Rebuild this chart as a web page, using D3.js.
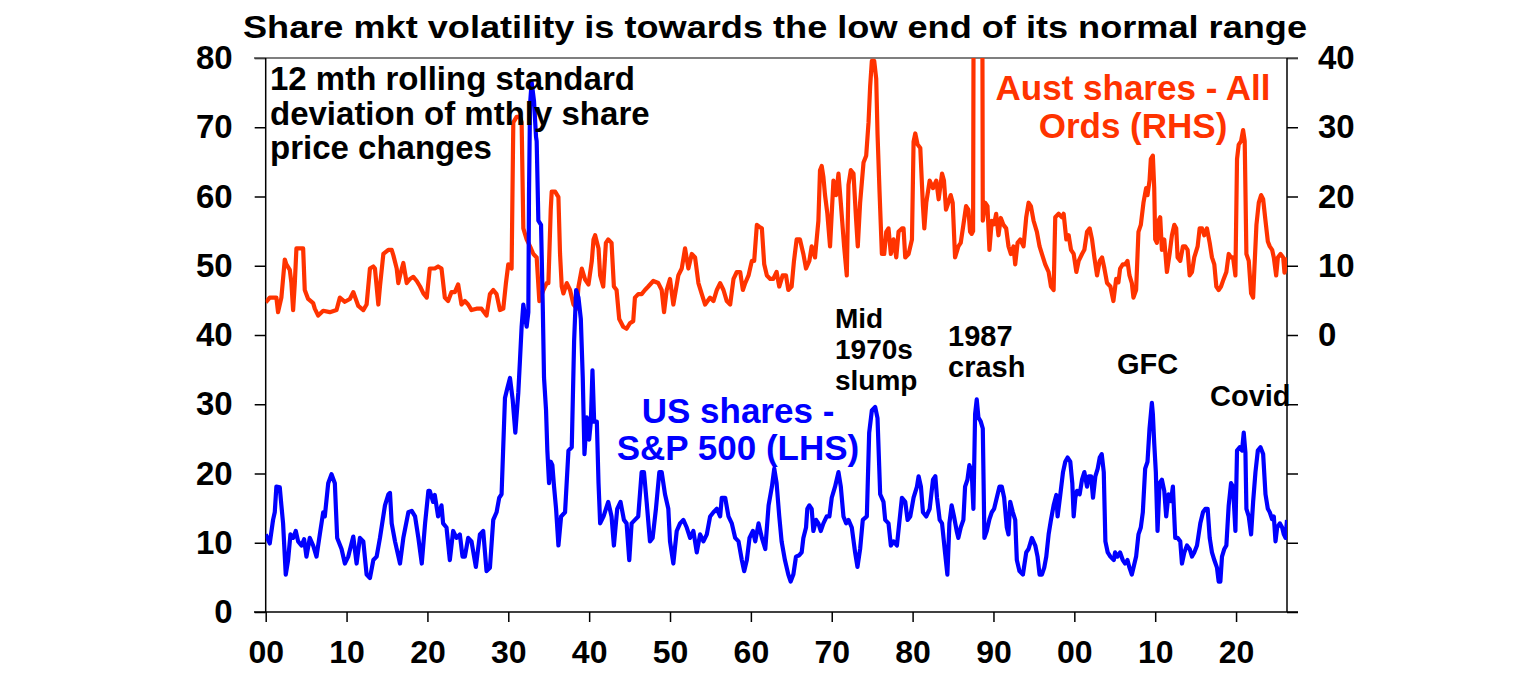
<!DOCTYPE html>
<html>
<head>
<meta charset="utf-8">
<script src="https://cdn.jsdelivr.net/npm/d3@7"></script>
<style>
  body { margin: 0; background: #fff; }
  text { font-family: "Liberation Sans", Arial, sans-serif; font-weight: bold; }
</style>
</head>
<body>
<div id="my_dataviz"></div>
<script>
// x axis ticks
var xTickYears = [1900, 1910, 1920, 1930, 1940, 1950, 1960, 1970, 1980, 1990, 2000, 2010, 2020];
var xTickLabels = ["00", "10", "20", "30", "40", "50", "60", "70", "80", "90", "00", "10", "20"];

// US shares - S&P 500, 12 mth rolling std dev (LHS)
var usDates = [1900.00,1900.50,1900.91,1901.12,1901.32,1901.74,1901.94,1902.15,1902.48,1902.77,1903.06,1903.39,1903.72,1904.01,1904.42,1904.75,1905.04,1905.45,1905.87,1906.28,1906.69,1907.11,1907.31,1907.73,1908.14,1908.55,1908.84,1909.38,1909.79,1910.21,1910.83,1911.24,1911.65,1912.07,1912.48,1912.89,1913.31,1913.72,1914.13,1914.75,1915.17,1915.37,1915.58,1915.99,1916.61,1917.02,1917.64,1918.06,1918.47,1918.88,1919.30,1919.71,1920.12,
  1920.29,1920.70,1920.91,1921.32,1921.74,1921.94,1922.36,1922.77,1923.18,1923.60,1924.01,1924.34,1924.63,1925.04,1925.45,1925.99,1926.49,1926.90,1927.31,1927.73,1928.14,1928.55,1928.88,1929.17,1929.59,1929.88,1930.21,1930.54,1930.87,1931.24,1931.45,1931.65,1931.86,1932.27,1932.48,1932.56,1932.69,1932.89,1933.18,1933.43,1933.51,1933.72,1934.05,1934.26,1934.42,1934.67,1934.83,1935.04,1935.25,1935.45,1935.66,1935.91,1936.20,1936.53,1937.02,1937.44,1937.85,1938.14,1938.39,1938.68,1938.97,1939.21,1939.42,1939.71,1940.00,1940.21,1940.41,1940.62,1940.95,1941.16,1941.36,1941.78,
  1941.94,1942.36,1942.77,1943.06,1943.47,1943.88,1944.30,1944.63,1944.96,1945.25,1945.66,1946.07,1946.49,1946.78,1947.11,1947.52,1947.85,1948.26,1948.68,1948.97,1949.38,1949.79,1950.00,1950.41,1950.83,1951.24,1951.65,1952.07,1952.48,1952.89,1953.31,1953.72,1954.13,1954.55,1954.96,1955.37,1955.79,1956.20,1956.40,1956.82,1957.23,1957.64,1958.06,1958.47,1958.88,1959.17,1959.50,1959.83,1960.25,1960.54,1960.95,1961.36,1961.78,1962.19,1962.60,1962.89,
  1963.18,1963.51,1963.80,1964.21,1964.63,1964.92,1965.25,1965.58,1965.99,1966.28,1966.49,1966.82,1966.98,1967.23,1967.52,1967.73,1968.06,1968.35,1968.64,1968.97,1969.38,1969.71,1970.00,1970.41,1970.83,1971.12,1971.45,1971.78,1972.07,1972.48,1972.89,1973.18,1973.51,1973.84,1974.34,1974.63,1974.96,1975.37,1975.66,1975.99,1976.40,1976.61,1977.02,1977.31,1977.64,1978.06,1978.39,1978.68,1979.09,1979.38,1979.71,1980.12,1980.54,1980.74,1981.03,1981.28,1981.69,1982.11,1982.52,1982.81,1983.02,1983.35,1983.64,
  1984.01,1984.30,1984.55,1984.83,1985.12,1985.45,1985.66,1985.95,1986.28,1986.49,1986.78,1987.02,1987.31,1987.52,1987.73,1987.93,1988.14,1988.43,1988.68,1988.88,1989.17,1989.50,1989.79,1990.08,1990.41,1990.74,1991.03,1991.32,1991.65,1991.86,1992.07,1992.40,1992.69,1992.89,1993.22,1993.64,1994.05,1994.34,1994.75,1995.17,1995.45,1995.70,1995.99,1996.28,1996.53,1996.82,1997.11,1997.44,1997.77,1997.93,1998.26,1998.60,1998.88,1999.17,1999.50,1999.75,1999.92,2000.12,2000.33,2000.66,2000.95,2001.24,2001.57,2001.78,2002.07,2002.31,2002.60,2002.89,2003.14,2003.39,2003.64,2003.84,2004.13,2004.46,2004.88,
  2005.04,2005.33,2005.66,2005.99,2006.28,2006.57,2006.82,2007.11,2007.31,2007.64,2007.93,2008.22,2008.47,2008.76,2009.05,2009.30,2009.59,2009.71,2009.88,2010.08,2010.29,2010.54,2010.83,2011.12,2011.36,2011.65,2011.94,2012.19,2012.48,2012.77,2013.10,2013.31,2013.60,2013.93,2014.26,2014.55,2014.83,2015.17,2015.58,2015.91,2016.20,2016.49,2016.74,2017.02,2017.31,2017.64,2017.85,2018.06,2018.26,2018.55,2018.80,2019.09,2019.38,2019.63,2019.92,2020.12,2020.45,2020.74,2020.95,2021.16,2021.28,2021.57,2021.86,2022.11,2022.40,2022.69,2023.02,2023.35,2023.64,2023.93,2024.17,2024.46,2024.67,2024.88,2025.08,2025.41,2025.70,2025.91,2026.12,2026.30];
var usVol = [11.2,9.9,13.3,14.4,18.1,18.0,15.4,12.8,5.4,7.5,11.2,10.7,11.7,10.2,9.6,10.5,8.0,10.7,9.6,8.0,11.2,14.4,13.8,18.6,19.9,18.6,10.7,9.1,7.0,8.0,10.9,7.0,10.7,10.2,5.4,4.9,7.5,8.0,10.7,15.4,17.0,17.2,12.8,10.2,7.0,10.7,14.4,14.6,13.8,10.7,7.0,12.8,17.5,
  17.5,15.9,16.9,13.8,15.4,12.8,12.2,7.5,11.7,10.7,11.2,8.0,8.0,10.7,10.2,6.5,11.2,11.7,5.9,6.4,13.3,14.4,16.5,17.0,30.9,32.3,33.8,30.7,25.9,31.7,36.5,41.2,44.4,41.2,43.3,60.2,73.3,76.5,73.8,68.6,68.0,56.5,55.9,44.4,33.8,29.1,23.3,18.6,21.7,21.2,18.1,14.9,9.6,13.8,14.4,23.3,23.8,39.1,46.5,45.4,42.3,33.8,22.8,28.1,24.9,27.5,34.9,27.5,27.5,18.6,12.8,13.8,
  14.4,15.9,13.8,9.6,14.9,15.9,13.3,12.8,7.5,12.8,13.3,13.8,20.2,20.2,15.9,10.2,10.7,14.9,20.2,20.2,17.0,14.9,10.2,7.0,11.7,12.8,13.3,12.2,10.7,11.7,8.6,11.2,10.2,11.2,13.8,14.4,14.9,13.8,16.5,16.5,13.8,12.8,10.7,10.2,7.5,5.9,7.5,10.7,11.7,10.2,12.8,10.7,9.1,15.4,18.1,20.7,
  18.6,13.8,10.2,7.5,5.4,4.4,5.4,8.0,8.2,8.6,10.7,12.2,14.9,15.4,14.9,11.7,13.3,12.8,11.7,12.8,13.8,13.8,16.5,18.1,20.2,18.1,13.8,12.8,13.3,12.2,8.6,6.5,9.1,13.3,13.8,25.9,29.1,29.6,28.0,17.0,15.9,13.3,12.8,9.6,10.2,9.6,13.3,16.5,15.9,13.3,13.8,16.5,18.1,19.6,18.1,14.4,13.8,14.9,19.1,19.6,16.5,13.3,12.8,
  8.6,5.4,12.8,15.4,13.8,11.7,10.7,12.2,13.3,18.1,19.1,21.2,20.2,14.9,28.6,30.7,28.1,27.5,26.5,10.7,11.7,13.4,14.4,14.9,16.5,18.1,18.1,16.5,12.2,11.2,15.9,14.4,13.3,7.5,5.9,5.4,8.6,9.1,10.7,9.6,8.0,5.4,5.4,6.4,8.0,11.2,13.3,15.4,16.9,13.8,16.9,20.2,21.7,22.3,21.7,18.6,13.8,16.5,17.5,17.0,19.1,20.2,18.1,19.6,19.6,16.5,19.6,20.7,22.3,22.8,20.2,10.2,8.6,8.0,7.5,
  8.6,8.0,8.6,7.5,7.0,7.5,6.4,5.4,6.4,8.0,11.2,12.2,14.4,20.7,21.7,26.5,30.2,28.6,24.4,20.2,11.7,18.6,19.1,17.5,13.8,17.0,16.0,18.1,10.7,10.7,10.2,7.0,8.6,9.6,9.1,8.0,8.6,9.6,12.8,14.4,14.9,14.9,10.7,8.6,7.5,6.4,4.4,4.4,8.0,9.1,9.6,15.4,18.6,18.1,11.7,23.3,23.8,23.3,25.9,23.0,14.9,13.8,11.2,15.9,20.2,23.3,23.8,22.8,17.0,14.9,14.4,13.4,13.8,10.2,12.2,12.8,12.2,11.2,10.7,13.3];

// Aust shares - All Ords, 12 mth rolling std dev (RHS)
var auDates = [1900.00,1900.50,1901.32,1901.53,1901.94,1902.36,1902.56,1902.98,1903.18,1903.39,1903.60,1903.80,1904.63,1904.83,1905.25,1905.87,1906.07,1906.49,1907.11,1907.93,1908.76,1909.17,1909.79,1910.41,1910.83,1911.45,1912.07,1912.48,1912.89,1913.31,1913.51,1913.93,1914.13,1914.55,1915.17,1915.58,1915.79,1916.20,1916.40,1916.61,1917.02,1917.44,1917.85,1918.26,1918.68,1919.09,1919.50,1919.92,
  1920.29,1920.91,1921.32,1921.74,1922.15,1922.56,1922.98,1923.39,1923.80,1924.21,1924.63,1925.04,1925.45,1926.07,1926.69,1927.31,1927.73,1928.14,1928.55,1928.97,1929.38,1929.71,1930.00,1930.41,1930.62,1931.03,1931.45,1931.65,1931.86,1932.27,1932.69,1933.10,1933.51,1933.84,1934.34,1934.75,1934.96,1935.25,1935.37,1935.79,1936.20,1936.40,1936.61,1936.82,1937.23,1937.64,1938.06,1938.47,1938.68,1939.09,1939.50,1939.92,1940.33,1940.54,1940.74,1941.16,1941.36,
  1941.74,1942.07,1942.36,1942.77,1943.06,1943.39,1943.72,1944.21,1944.63,1945.04,1945.45,1945.66,1946.07,1946.49,1946.90,1947.31,1947.93,1948.55,1948.97,1949.26,1949.59,1950.00,1950.41,1951.03,1951.45,1951.86,1952.27,1952.69,1953.10,1953.51,1953.93,1954.34,1954.96,1955.37,1955.79,1956.20,1956.61,1957.02,1957.44,1957.85,1958.26,1958.68,1959.01,1959.30,1959.71,1960.12,1960.41,1960.74,1961.07,1961.36,1961.65,1961.98,1962.40,
  1962.77,1963.18,1963.51,1963.93,1964.34,1964.63,1965.04,1965.33,1965.66,1966.07,1966.49,1966.82,1967.23,1967.52,1967.93,1968.35,1968.55,1968.76,1968.97,1969.17,1969.46,1969.79,1970.21,1970.54,1970.83,1971.12,1971.36,1971.53,1971.86,1972.07,1972.36,1972.69,1973.02,1973.22,1973.51,1973.93,1974.26,1974.55,1974.75,1974.96,1975.25,1975.50,1975.66,1975.91,1976.20,1976.49,1976.74,1977.02,1977.31,1977.64,1977.98,1978.26,1978.68,1978.88,1979.09,1979.50,1979.92,1980.12,1980.33,1980.62,1980.95,1981.28,1981.45,1981.69,1982.11,1982.52,1982.93,1983.22,1983.64,
  1983.88,1984.13,1984.42,1984.71,1984.96,1985.25,1985.66,1985.95,1986.28,1986.61,1986.90,1987.11,1987.31,1987.48,1987.55,1988.10,1988.62,1988.68,1988.97,1989.26,1989.50,1989.79,1990.08,1990.33,1990.62,1990.91,1991.24,1991.57,1991.86,1992.15,1992.48,1992.69,1992.98,1993.31,1993.72,1994.05,1994.34,1994.63,1994.96,1995.37,1995.70,1995.99,1996.40,1996.82,1997.11,1997.44,1997.64,1998.06,1998.47,1998.68,1999.01,1999.30,1999.59,1999.92,2000.25,2000.54,2000.95,2001.24,2001.57,2001.90,2002.19,2002.48,2002.81,2003.14,2003.43,2003.72,2004.05,2004.46,
  2004.83,2005.17,2005.45,2005.66,2005.99,2006.28,2006.57,2006.82,2007.11,2007.31,2007.64,2007.93,2008.22,2008.55,2008.88,2009.05,2009.30,2009.46,2009.71,2009.88,2010.00,2010.21,2010.41,2010.62,2010.83,2011.12,2011.45,2011.78,2012.07,2012.36,2012.60,2012.77,2013.10,2013.43,2013.72,2014.01,2014.26,2014.55,2014.83,2015.25,2015.50,2015.79,2016.07,2016.40,2016.74,2017.02,2017.31,2017.56,2017.85,2018.14,2018.47,2018.80,2019.09,2019.38,2019.63,2019.92,2020.12,2020.33,2020.62,2020.87,2021.07,2021.28,2021.57,2021.86,2022.11,2022.27,2022.52,2022.81,2023.10,2023.35,2023.64,2023.93,2024.17,2024.46,2024.67,2024.96,2025.17,2025.50,2025.83,2025.99,2026.30];
var auVol = [4.7,5.4,5.4,3.3,5.4,10.9,10.2,9.4,7.5,3.6,7.5,12.5,12.5,6.5,5.2,4.6,3.8,2.8,3.5,3.3,3.6,5.4,4.8,5.2,6.2,4.2,3.6,4.4,9.6,9.9,9.6,4.4,7.0,11.7,12.3,12.3,11.5,9.6,7.5,8.6,10.4,7.5,8.1,8.4,7.8,7.0,6.0,5.4,
  9.6,9.6,9.9,9.6,5.4,4.9,6.2,6.2,7.3,4.4,4.9,4.4,3.6,3.8,3.8,2.8,5.9,6.5,5.9,3.6,3.8,7.5,10.2,9.6,30.7,31.5,31.5,30.7,15.4,13.8,12.8,11.7,11.2,4.9,6.5,7.5,7.5,18.1,20.7,20.7,19.9,11.7,7.0,6.0,7.5,6.5,4.4,3.8,7.0,9.6,8.0,7.3,10.7,13.8,14.4,12.5,8.6,
  7.0,13.3,13.8,13.3,7.0,6.5,2.3,1.2,0.9,1.7,2.0,5.4,5.9,5.9,6.5,7.0,7.8,7.5,6.5,3.3,6.5,8.1,4.4,8.6,9.6,12.5,9.6,11.7,11.2,7.5,5.9,4.4,5.4,4.9,6.5,7.5,6.5,4.9,4.4,8.1,9.1,9.1,6.5,7.5,8.6,10.7,10.7,15.9,15.6,15.4,10.2,8.6,8.1,
  8.1,9.1,7.0,8.6,8.6,6.5,7.0,10.7,13.8,13.8,11.7,9.6,10.7,12.8,11.2,16.5,23.8,24.4,22.8,20.2,17.5,12.8,22.3,20.2,23.3,19.1,15.4,12.8,8.6,21.7,23.8,23.3,16.5,12.8,19.1,24.9,25.9,30.7,35.9,39.6,39.6,37.0,29.1,20.7,11.7,11.7,14.9,15.4,11.7,13.8,11.2,14.9,15.4,15.4,11.2,11.7,13.8,27.9,29.1,27.5,27.0,18.6,15.4,19.1,22.3,21.2,22.3,19.6,23.3,
  22.3,18.1,19.1,20.2,19.1,11.2,12.8,13.3,15.9,18.6,18.1,14.9,14.6,15.0,50.0,52.0,50.0,16.5,19.1,18.6,12.3,16.5,16.0,17.5,14.4,16.9,15.9,15.4,12.8,11.7,12.8,10.2,13.3,13.8,12.8,17.0,19.1,18.6,16.5,14.9,12.8,11.7,10.2,9.1,7.0,6.5,17.0,17.5,17.0,17.5,13.8,14.4,12.3,11.7,9.1,10.7,11.7,12.3,14.9,15.4,13.8,11.2,8.6,10.7,11.2,9.6,7.5,7.0,
  4.9,8.1,7.6,9.6,10.2,10.2,10.7,8.6,7.5,5.4,6.5,14.9,15.9,19.1,21.2,20.2,22.3,25.4,25.9,21.2,13.8,13.3,16.5,17.0,12.3,13.8,9.1,11.7,14.4,15.9,15.4,11.2,10.7,12.8,12.8,12.3,8.6,9.1,11.2,12.8,15.4,15.4,14.4,15.4,13.3,11.2,10.2,7.0,6.5,7.0,8.1,9.1,11.7,11.2,11.2,8.6,25.4,27.5,28.0,29.6,28.0,11.7,10.7,6.0,5.4,9.6,15.9,19.1,20.2,19.6,16.5,13.5,12.8,12.3,11.2,8.6,11.2,11.7,11.2,9.0,11.2];

var us = usDates.map(function(d, i) { return {date: d, value: usVol[i]}; });
var au = auDates.map(function(d, i) { return {date: d, value: auVol[i]}; });

var width = 1536, height = 680;
var plot = {left: 265.7, right: 1287, top: 58, bottom: 612};

var svg = d3.select("#my_dataviz")
  .append("svg")
    .attr("width", width)
    .attr("height", height);

var x = d3.scaleLinear().domain([1900, 2026.3]).range([plot.left, plot.right]);
var y = d3.scaleLinear().domain([0, 80]).range([plot.bottom, plot.top]);
var yR = d3.scaleLinear().domain([-40, 40]).range([plot.bottom, plot.top]);

svg.append("defs").append("clipPath").attr("id", "clip")
  .append("rect")
    .attr("x", plot.left).attr("y", plot.top)
    .attr("width", plot.right - plot.left).attr("height", plot.bottom - plot.top);

// title
svg.append("text")
  .attr("x", 775)
  .attr("y", 38)
  .attr("text-anchor", "middle")
  .attr("font-size", 31)
  .attr("textLength", 1064)
  .attr("lengthAdjust", "spacingAndGlyphs")
  .text("Share mkt volatility is towards the low end of its normal range");

// axes
var leftAxis = svg.append("g")
  .attr("transform", "translate(" + plot.left + ",0)")
  .call(d3.axisLeft(y).tickValues(d3.range(0, 90, 10)).tickSize(11).tickPadding(22));

var rightAxis = svg.append("g")
  .attr("transform", "translate(" + plot.right + ",0)")
  .call(d3.axisRight(yR).tickValues(d3.range(-40, 50, 10)).tickSize(11).tickPadding(20)
    .tickFormat(function(d) { return d >= 0 ? d : ""; }));

var bottomAxis = svg.append("g")
  .attr("transform", "translate(0," + plot.bottom + ")")
  .call(d3.axisBottom(x).tickValues(xTickYears).tickSize(10).tickPadding(18)
    .tickFormat(function(d, i) { return xTickLabels[i]; }));

[leftAxis, rightAxis, bottomAxis].forEach(function(g) {
  g.select(".domain").remove();
  g.selectAll(".tick line").attr("stroke", "#000").attr("stroke-width", 1.5);
  g.selectAll(".tick text")
    .attr("fill", "#000")
    .attr("font-size", 33)
    .attr("font-family", "'Liberation Sans', Arial, sans-serif")
    .attr("font-weight", "bold");
});
bottomAxis.selectAll(".tick text").attr("font-size", 32);

// frame
svg.append("line").attr("x1", 254).attr("x2", 1298).attr("y1", plot.top).attr("y2", plot.top)
  .attr("stroke", "#555").attr("stroke-width", 1.5);
svg.append("line").attr("x1", 254).attr("x2", 1298).attr("y1", plot.bottom).attr("y2", plot.bottom)
  .attr("stroke", "#000").attr("stroke-width", 1.5);
svg.append("line").attr("x1", plot.left).attr("x2", plot.left).attr("y1", plot.top).attr("y2", plot.bottom)
  .attr("stroke", "#000").attr("stroke-width", 1.5);
svg.append("line").attr("x1", plot.right).attr("x2", plot.right).attr("y1", plot.top).attr("y2", plot.bottom)
  .attr("stroke", "#000").attr("stroke-width", 1.5);

// lines
var lines = svg.append("g").attr("clip-path", "url(#clip)");

lines.append("path")
  .datum(au)
  .attr("fill", "none")
  .attr("stroke", "#ff3300")
  .attr("stroke-width", 4.2)
  .attr("stroke-linejoin", "round")
  .attr("d", d3.line().x(function(d) { return x(d.date); }).y(function(d) { return yR(d.value); }));

lines.append("path")
  .datum(us)
  .attr("fill", "none")
  .attr("stroke", "#0000ff")
  .attr("stroke-width", 4.2)
  .attr("stroke-linejoin", "round")
  .attr("d", d3.line().x(function(d) { return x(d.date); }).y(function(d) { return y(d.value); }));

// annotations
function label(lines, xPos, yPos, lineH, size, color, anchor) {
  var t = svg.append("text")
    .attr("font-size", size)
    .attr("fill", color)
    .attr("text-anchor", anchor || "start");
  lines.forEach(function(s, i) {
    t.append("tspan").attr("x", xPos).attr("y", yPos + i * lineH).text(s);
  });
}

label(["12 mth rolling standard", "deviation of mthly share", "price changes"], 270, 90, 34.5, 33, "#000");
label(["Aust shares - All", "Ords (RHS)"], 1133, 100, 38, 35, "#ff3300", "middle");
label(["US shares -", "S&P 500 (LHS)"], 738, 423, 37, 35, "#0000ff", "middle");
label(["Mid", "1970s", "slump"], 835, 328, 31, 28, "#000");
label(["1987", "crash"], 948, 346, 31, 29, "#000");
label(["GFC"], 1117, 374, 31, 29, "#000");
label(["Covid"], 1210, 406, 31, 29, "#000");
</script>
</body>
</html>
